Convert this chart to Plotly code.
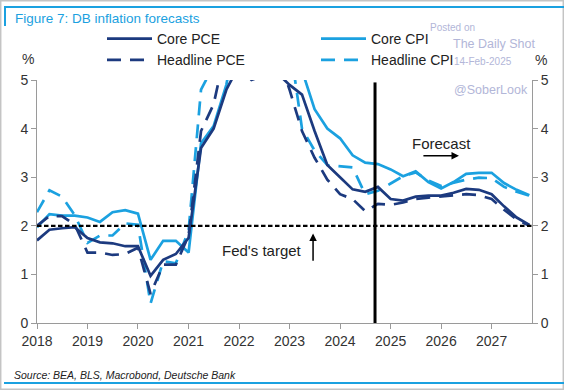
import plotly.graph_objects as go

# ---------------- data (quarterly, YoY %) ----------------
quarters = [f"{y}-{m:02d}-01" for y in range(2018, 2028) for m in (1, 4, 7, 10)]

core_pce = [1.70, 1.92, 1.95, 1.97,
            1.75, 1.66, 1.64, 1.58,
            1.58, 0.97, 1.30, 1.42,
            1.75, 3.60, 4.00, 4.80,
            5.30, 5.00, 5.10, 5.15,
            4.90, 4.70, 3.95, 3.25,
            3.00, 2.75, 2.70, 2.80,
            2.55, 2.52, 2.60, 2.62,
            2.62, 2.68, 2.76, 2.74,
            2.65, 2.40, 2.17, 2.02]

core_cpi = [1.97, 2.24, 2.21, 2.21,
            2.17, 2.08, 2.28, 2.32,
            2.25, 1.30, 1.69, 1.69,
            1.45, 3.70, 4.05, 4.90,
            6.30, 6.00, 6.30, 6.00,
            5.60, 5.20, 4.40, 4.00,
            3.80, 3.45, 3.30, 3.27,
            3.16, 3.02, 3.12, 2.90,
            2.77, 2.90, 3.07, 3.09,
            3.09, 2.88, 2.74, 2.63]

headline_pce = [2.00, 2.20, 2.20, 2.02,
                1.45, 1.45, 1.40, 1.42,
                1.55, 0.60, 1.20, 1.20,
                1.80, 3.95, 4.50, 5.70,
                6.50, 6.70, 6.40, 5.60,
                4.80, 3.95, 3.40, 2.95,
                2.65, 2.55, 2.30, 2.45,
                2.43, 2.48, 2.55, 2.58,
                2.60, 2.63, 2.65, 2.63,
                2.55, 2.33, 2.13, 2.00]

headline_cpi = [2.28, 2.73, 2.60, 2.22,
                1.65, 1.80, 1.80, 2.05,
                2.02, 0.40, 1.27, 1.23,
                1.90, 4.80, 5.30, 6.70,
                8.00, 8.60, 8.30, 7.10,
                5.80, 4.00, 3.55, 3.25,
                3.22, 3.20, 2.65, 2.72,
                2.87, 3.02, 3.10, 2.93,
                2.82, 2.88, 2.95, 2.99,
                2.98, 2.80, 2.70, 2.62]

year_ticks = list(range(2018, 2028))
y_ticks = [0, 1, 2, 3, 4, 5]
fed_target = 2
forecast_start = "2024-09-10"
x_start, x_end = "2018-01-01", "2027-10-20"

NAVY = "#1c3a7f"
LIGHT = "#1ba1e0"
WM = "#b2b6d8"
FONT = "Arial, Liberation Sans, sans-serif"

fig = go.Figure()

series = [
    ("Core PCE", core_pce, NAVY, "solid", "legend"),
    ("Headline PCE", headline_pce, NAVY, "14px,9px", "legend"),
    ("Core CPI", core_cpi, LIGHT, "solid", "legend2"),
    ("Headline CPI", headline_cpi, LIGHT, "14px,9px", "legend2"),
]
for name, vals, col, dash, leg in [series[2], series[3], series[0], series[1]]:
    fig.add_trace(go.Scatter(x=quarters, y=vals, name=name, mode="lines",
                             line=dict(color=col, width=2.7, dash=dash),
                             legend=leg, hoverinfo="skip"))

fig.add_trace(go.Scatter(x=[x_start, x_end], y=[fed_target, fed_target], mode="lines",
                         line=dict(color="black", width=2.2, dash="4.5px,2.5px"),
                         showlegend=False, yaxis="y2", hoverinfo="skip"))

fig.add_shape(type="line", xref="x", yref="y", x0=forecast_start, x1=forecast_start,
              y0=0, y1=4.95, line=dict(color="black", width=3))

def px(xp):
    return (xp - 37) / 495.0

def py(yp):
    return (323 - yp) / 243.0

fig.add_shape(type="rect", xref="paper", yref="paper", x0=px(0.7), x1=px(563.3),
              y0=py(389.3), y1=py(0.7), line=dict(color="#c4c4c4", width=1.5), layer="below")
fig.add_shape(type="line", xref="paper", yref="paper", x0=px(4), x1=px(564),
              y0=py(7), y1=py(7), line=dict(color=LIGHT, width=2))
fig.add_shape(type="line", xref="paper", yref="paper", x0=px(5), x1=px(5),
              y0=py(7), y1=py(26), line=dict(color=LIGHT, width=2))
fig.add_shape(type="line", xref="paper", yref="paper", x0=px(4), x1=px(564),
              y0=py(383), y1=py(383), line=dict(color=LIGHT, width=2))

ann = []
ann.append(dict(text="Figure 7: DB inflation forecasts", xref="paper", yref="paper",
                x=px(13), y=py(18), xanchor="left", yanchor="middle", showarrow=False,
                font=dict(family=FONT, size=13.5, color=LIGHT)))
ann.append(dict(text="<i>Source: BEA, BLS, Macrobond, Deutsche Bank</i>", xref="paper", yref="paper",
                x=px(12), y=py(375), xanchor="left", yanchor="middle", showarrow=False,
                font=dict(family=FONT, size=10.5, color="#222")))
ann.append(dict(text="%", xref="paper", yref="paper", x=px(28), y=py(59), xanchor="center",
                yanchor="middle", showarrow=False, font=dict(family=FONT, size=14, color="#333")))
ann.append(dict(text="%", xref="paper", yref="paper", x=px(541), y=py(60), xanchor="center",
                yanchor="middle", showarrow=False, font=dict(family=FONT, size=14, color="#333")))
ann.append(dict(text="Posted on", xref="paper", yref="paper", x=px(428), y=py(27), xanchor="left",
                yanchor="middle", showarrow=False, font=dict(family=FONT, size=10, color=WM)))
ann.append(dict(text="The Daily Shot", xref="paper", yref="paper", x=px(451), y=py(44), xanchor="left",
                yanchor="middle", showarrow=False, font=dict(family=FONT, size=12.5, color=WM)))
ann.append(dict(text="14-Feb-2025", xref="paper", yref="paper", x=px(452), y=py(62), xanchor="left",
                yanchor="middle", showarrow=False, font=dict(family=FONT, size=10, color=WM)))
ann.append(dict(text="@SoberLook", xref="paper", yref="paper", x=px(452), y=py(90), xanchor="left",
                yanchor="middle", showarrow=False, font=dict(family=FONT, size=12.5, color=WM)))
ann.append(dict(text="Fed's target", xref="x", yref="y", x="2022-06-15", y=1.5, showarrow=False,
                font=dict(family=FONT, size=15, color="#222")))
ann.append(dict(text="", xref="x", yref="y", x="2023-06-20", y=1.84, axref="x", ayref="y",
                ax="2023-06-20", ay=1.25, showarrow=True, arrowhead=2, arrowsize=1,
                arrowwidth=1.5, arrowcolor="black"))
ann.append(dict(text="Forecast", xref="x", yref="y", x="2026-01-01", y=3.70, showarrow=False,
                font=dict(family=FONT, size=15, color="#222")))
ann.append(dict(text="", xref="x", yref="y", x="2026-05-10", y=3.44, axref="x", ayref="y",
                ax="2025-08-15", ay=3.44, showarrow=True, arrowhead=2, arrowsize=1,
                arrowwidth=1.5, arrowcolor="black"))

axis_common = dict(showgrid=False, zeroline=False, showline=True, linecolor="#9a9a9a",
                   linewidth=1, ticks="outside", ticklen=5, tickcolor="#9a9a9a",
                   tickfont=dict(family=FONT, size=14, color="#333"), automargin=False)

fig.update_layout(
    width=564, height=390, autosize=False,
    margin=dict(l=37, r=32, t=80, b=67, autoexpand=False),
    paper_bgcolor="white", plot_bgcolor="white",
    font=dict(family=FONT, color="#222"),
    annotations=ann,
    xaxis=dict(type="date", range=[x_start, x_end],
               tickvals=[f"{y}-01-01" for y in year_ticks], ticktext=[str(y) for y in year_ticks],
               **axis_common),
    yaxis=dict(range=[0, 5], tickvals=y_ticks, ticktext=[str(v) for v in y_ticks], **axis_common),
    yaxis2=dict(range=[0, 5], tickvals=y_ticks, ticktext=[str(v) for v in y_ticks],
                overlaying="y", side="right", **axis_common),
    legend=dict(x=px(102), y=py(23), xanchor="left", yanchor="top", orientation="v",
                font=dict(family=FONT, size=14, color="#222"), bgcolor="rgba(0,0,0,0)",
                itemwidth=45, tracegroupgap=0, traceorder="normal"),
    legend2=dict(x=px(316), y=py(23), xanchor="left", yanchor="top", orientation="v",
                 font=dict(family=FONT, size=14, color="#222"), bgcolor="rgba(0,0,0,0)",
                 itemwidth=45, tracegroupgap=0, traceorder="normal"),
    showlegend=True,
)

fig.write_html("out.html", config={"displayModeBar": False},
               post_script="document.body.style.margin='0px';document.body.style.overflow='hidden';")
